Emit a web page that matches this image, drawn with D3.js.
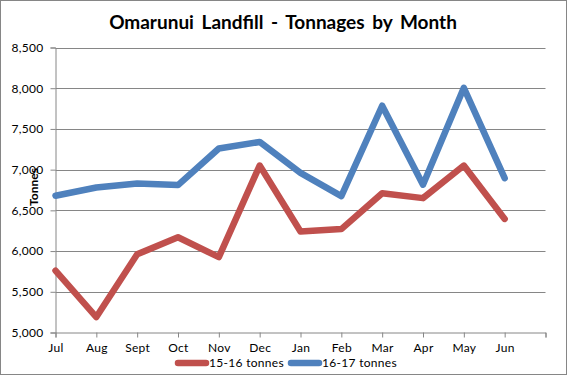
<!DOCTYPE html>
<html><head><meta charset="utf-8">
<script src="https://cdn.jsdelivr.net/npm/d3@7"></script>
<style>
body{margin:0;background:#fff;}
svg text{font-family:Lato,"Open Sans",sans-serif;}
</style></head>
<body><svg id="c" width="567" height="375"></svg>
<script>
const months = ["Jul","Aug","Sept","Oct","Nov","Dec","Jan","Feb","Mar","Apr","May","Jun"];
const yTicks = [5000,5500,6000,6500,7000,7500,8000,8500];
const s1516 = [5760,5190,5960,6170,5925,7050,6240,6270,6710,6650,7050,6395];
const s1617 = [6680,6780,6830,6810,7260,7340,6960,6675,7785,6815,8005,6895];
const seriesNames = ["15-16 tonnes","16-17 tonnes"];
const colors = ["#C0504D","#4F81BD"];

const svg = d3.select("#c");
svg.append("rect").attr("x",0.5).attr("y",0.5).attr("width",566).attr("height",374)
  .attr("fill","#fff").attr("stroke","#868686");

const x = d3.scaleLinear().domain([0,12]).range([55.5,545.5]);
const y = d3.scaleLinear().domain([5000,8500]).range([332.5,47.5]);

// gridlines
svg.append("g").selectAll("line").data(yTicks.slice(1)).join("line")
  .attr("x1",55.5).attr("x2",545.5).attr("y1",d=>Math.round(y(d))+0.5).attr("y2",d=>Math.round(y(d))+0.5)
  .attr("stroke","#868686").attr("stroke-width",1);

// y axis
const ya = svg.append("g").attr("transform","translate(55.5,0)")
  .call(d3.axisLeft(y).tickValues(yTicks).tickSize(5).tickPadding(7).tickFormat(d3.format(",")));
ya.select(".domain").attr("stroke","#868686");
ya.selectAll(".tick line").attr("stroke","#868686");
ya.selectAll("text").attr("font-size",12).attr("fill","#000").attr("letter-spacing","0.3px");

// x axis
const xa = svg.append("g").attr("transform","translate(0,332.5)")
  .call(d3.axisBottom(x).tickValues(d3.range(13)).tickSize(5).tickPadding(6).tickFormat(i=>months[i]||""));
xa.select(".domain").attr("stroke","#868686");
xa.selectAll(".tick line").attr("stroke","#868686");
xa.selectAll("text").attr("font-size",12).attr("fill","#000").attr("letter-spacing","0.3px");

// lines
const line = d3.line().x((d,i)=>x(i)).y(d=>y(d));
[s1516,s1617].forEach((s,k)=>{
  svg.append("path").datum(s).attr("d",line).attr("fill","none")
    .attr("stroke",colors[k]).attr("stroke-width",6.5)
    .attr("stroke-linejoin","round").attr("stroke-linecap","round");
});

// title
svg.append("text").attr("x",283).attr("y",29).attr("text-anchor","middle")
  .attr("font-size",19).attr("font-weight","bold").attr("fill","#000")
  .attr("word-spacing","3px")
  .text("Omarunui  Landfill - Tonnages  by Month");

// y title
svg.append("text").attr("transform","translate(38,187) rotate(-90)")
  .attr("text-anchor","middle").attr("font-size",12).attr("font-weight","bold").attr("fill","#000")
  .text("Tonnes");

// legend
const lg = svg.append("g");
const lx = [178,291];
seriesNames.forEach((n,k)=>{
  lg.append("line").attr("x1",lx[k]).attr("x2",lx[k]+28).attr("y1",363).attr("y2",363)
    .attr("stroke",colors[k]).attr("stroke-width",6.5).attr("stroke-linecap","round");
  lg.append("text").attr("x",lx[k]+31).attr("y",367).attr("font-size",12).attr("fill","#000")
    .attr("letter-spacing","0.3px").text(n);
});
</script></body></html>
